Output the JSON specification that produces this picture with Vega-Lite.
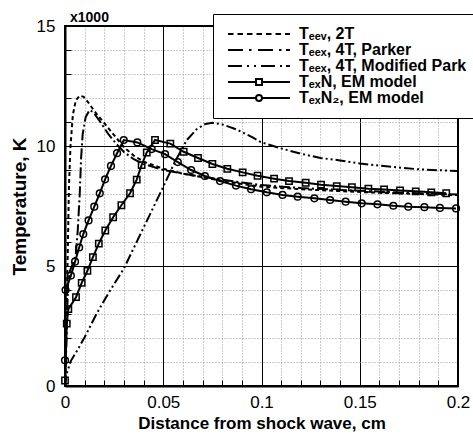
{
  "$schema": "https://vega.github.io/schema/vega-lite/v6.json",
  "autosize": "none",
  "width": 393,
  "height": 360,
  "padding": {"left": 65, "top": 26, "right": 15, "bottom": 49},
  "background": "white",
  "title": {"text": "x1000", "anchor": "start", "frame": "group", "fontSize": 14, "fontWeight": "bold", "font": "Liberation Sans", "color": "black", "offset": 4, "dx": 5, "dy": 15},
  "config": {
    "view": {"stroke": "black", "strokeWidth": 2},
    "axis": {
      "domainColor": "black", "domainWidth": 2,
      "labelFont": "Liberation Sans", "labelFontSize": 17, "labelFontWeight": "normal", "labelColor": "black",
      "titleFont": "Liberation Sans", "titleFontWeight": "bold", "titleColor": "black",
      "tickColor": "black", "tickWidth": 1, "labelOverlap": false, "labelFlush": false
    },
    "legend": {
      "labelFont": "Liberation Sans", "labelFontSize": 16, "labelFontWeight": "bold", "labelColor": "black",
      "symbolStrokeWidth": 2, "symbolStrokeColor": "black"
    }
  },
  "datasets": {
    "temps": [
      {"s": "Tₑₑᵥ, 2T", "x": 0, "y": 0},
      {"s": "Tₑₑᵥ, 2T", "x": 0.0008, "y": 3.0},
      {"s": "Tₑₑᵥ, 2T", "x": 0.0015, "y": 6.0},
      {"s": "Tₑₑᵥ, 2T", "x": 0.002, "y": 8.3},
      {"s": "Tₑₑᵥ, 2T", "x": 0.0028, "y": 10.0},
      {"s": "Tₑₑᵥ, 2T", "x": 0.004, "y": 11.3},
      {"s": "Tₑₑᵥ, 2T", "x": 0.0055, "y": 11.9},
      {"s": "Tₑₑᵥ, 2T", "x": 0.0075, "y": 12.1},
      {"s": "Tₑₑᵥ, 2T", "x": 0.0095, "y": 12.05},
      {"s": "Tₑₑᵥ, 2T", "x": 0.012, "y": 11.8},
      {"s": "Tₑₑᵥ, 2T", "x": 0.015, "y": 11.45},
      {"s": "Tₑₑᵥ, 2T", "x": 0.02, "y": 10.95},
      {"s": "Tₑₑᵥ, 2T", "x": 0.025, "y": 10.45},
      {"s": "Tₑₑᵥ, 2T", "x": 0.03, "y": 9.95},
      {"s": "Tₑₑᵥ, 2T", "x": 0.035, "y": 9.6},
      {"s": "Tₑₑᵥ, 2T", "x": 0.04, "y": 9.35},
      {"s": "Tₑₑᵥ, 2T", "x": 0.045, "y": 9.2},
      {"s": "Tₑₑᵥ, 2T", "x": 0.05, "y": 9.05},
      {"s": "Tₑₑᵥ, 2T", "x": 0.06, "y": 8.85},
      {"s": "Tₑₑᵥ, 2T", "x": 0.07, "y": 8.7},
      {"s": "Tₑₑᵥ, 2T", "x": 0.08, "y": 8.55},
      {"s": "Tₑₑᵥ, 2T", "x": 0.09, "y": 8.42},
      {"s": "Tₑₑᵥ, 2T", "x": 0.1, "y": 8.3},
      {"s": "Tₑₑᵥ, 2T", "x": 0.12, "y": 8.2},
      {"s": "Tₑₑᵥ, 2T", "x": 0.14, "y": 8.12},
      {"s": "Tₑₑᵥ, 2T", "x": 0.16, "y": 8.05},
      {"s": "Tₑₑᵥ, 2T", "x": 0.18, "y": 8.0},
      {"s": "Tₑₑᵥ, 2T", "x": 0.2, "y": 7.95},

      {"s": "Tₑₑₓ, 4T, Parker", "x": 0, "y": 0},
      {"s": "Tₑₑₓ, 4T, Parker", "x": 0.0008, "y": 2.0},
      {"s": "Tₑₑₓ, 4T, Parker", "x": 0.0015, "y": 4.2},
      {"s": "Tₑₑₓ, 4T, Parker", "x": 0.0025, "y": 4.8},
      {"s": "Tₑₑₓ, 4T, Parker", "x": 0.004, "y": 5.1},
      {"s": "Tₑₑₓ, 4T, Parker", "x": 0.0055, "y": 5.5},
      {"s": "Tₑₑₓ, 4T, Parker", "x": 0.0065, "y": 6.5},
      {"s": "Tₑₑₓ, 4T, Parker", "x": 0.0075, "y": 8.0},
      {"s": "Tₑₑₓ, 4T, Parker", "x": 0.0082, "y": 9.5},
      {"s": "Tₑₑₓ, 4T, Parker", "x": 0.009, "y": 10.5},
      {"s": "Tₑₑₓ, 4T, Parker", "x": 0.0105, "y": 11.2},
      {"s": "Tₑₑₓ, 4T, Parker", "x": 0.0125, "y": 11.5},
      {"s": "Tₑₑₓ, 4T, Parker", "x": 0.0145, "y": 11.4},
      {"s": "Tₑₑₓ, 4T, Parker", "x": 0.018, "y": 11.0},
      {"s": "Tₑₑₓ, 4T, Parker", "x": 0.022, "y": 10.5},
      {"s": "Tₑₑₓ, 4T, Parker", "x": 0.026, "y": 10.1},
      {"s": "Tₑₑₓ, 4T, Parker", "x": 0.03, "y": 9.75},
      {"s": "Tₑₑₓ, 4T, Parker", "x": 0.035, "y": 9.45},
      {"s": "Tₑₑₓ, 4T, Parker", "x": 0.04, "y": 9.25},
      {"s": "Tₑₑₓ, 4T, Parker", "x": 0.05, "y": 9.0},
      {"s": "Tₑₑₓ, 4T, Parker", "x": 0.06, "y": 8.85},
      {"s": "Tₑₑₓ, 4T, Parker", "x": 0.07, "y": 8.72},
      {"s": "Tₑₑₓ, 4T, Parker", "x": 0.08, "y": 8.6},
      {"s": "Tₑₑₓ, 4T, Parker", "x": 0.09, "y": 8.48},
      {"s": "Tₑₑₓ, 4T, Parker", "x": 0.1, "y": 8.37},
      {"s": "Tₑₑₓ, 4T, Parker", "x": 0.12, "y": 8.25},
      {"s": "Tₑₑₓ, 4T, Parker", "x": 0.14, "y": 8.17},
      {"s": "Tₑₑₓ, 4T, Parker", "x": 0.16, "y": 8.1},
      {"s": "Tₑₑₓ, 4T, Parker", "x": 0.18, "y": 8.03},
      {"s": "Tₑₑₓ, 4T, Parker", "x": 0.2, "y": 7.98},

      {"s": "Tₑₑₓ, 4T, Modified Park", "x": 0, "y": 0},
      {"s": "Tₑₑₓ, 4T, Modified Park", "x": 0.0008, "y": 0.5},
      {"s": "Tₑₑₓ, 4T, Modified Park", "x": 0.003, "y": 1.05},
      {"s": "Tₑₑₓ, 4T, Modified Park", "x": 0.006, "y": 1.45},
      {"s": "Tₑₑₓ, 4T, Modified Park", "x": 0.01, "y": 2.03},
      {"s": "Tₑₑₓ, 4T, Modified Park", "x": 0.016, "y": 3.0},
      {"s": "Tₑₑₓ, 4T, Modified Park", "x": 0.022, "y": 3.85},
      {"s": "Tₑₑₓ, 4T, Modified Park", "x": 0.03, "y": 4.9},
      {"s": "Tₑₑₓ, 4T, Modified Park", "x": 0.04, "y": 6.6},
      {"s": "Tₑₑₓ, 4T, Modified Park", "x": 0.05, "y": 8.3},
      {"s": "Tₑₑₓ, 4T, Modified Park", "x": 0.056, "y": 9.35},
      {"s": "Tₑₑₓ, 4T, Modified Park", "x": 0.062, "y": 10.25},
      {"s": "Tₑₑₓ, 4T, Modified Park", "x": 0.067, "y": 10.7},
      {"s": "Tₑₑₓ, 4T, Modified Park", "x": 0.0715, "y": 10.92},
      {"s": "Tₑₑₓ, 4T, Modified Park", "x": 0.075, "y": 10.97},
      {"s": "Tₑₑₓ, 4T, Modified Park", "x": 0.08, "y": 10.9},
      {"s": "Tₑₑₓ, 4T, Modified Park", "x": 0.087, "y": 10.7},
      {"s": "Tₑₑₓ, 4T, Modified Park", "x": 0.095, "y": 10.38},
      {"s": "Tₑₑₓ, 4T, Modified Park", "x": 0.1, "y": 10.15},
      {"s": "Tₑₑₓ, 4T, Modified Park", "x": 0.11, "y": 9.9},
      {"s": "Tₑₑₓ, 4T, Modified Park", "x": 0.12, "y": 9.68},
      {"s": "Tₑₑₓ, 4T, Modified Park", "x": 0.13, "y": 9.5},
      {"s": "Tₑₑₓ, 4T, Modified Park", "x": 0.14, "y": 9.4},
      {"s": "Tₑₑₓ, 4T, Modified Park", "x": 0.15, "y": 9.27},
      {"s": "Tₑₑₓ, 4T, Modified Park", "x": 0.16, "y": 9.18},
      {"s": "Tₑₑₓ, 4T, Modified Park", "x": 0.17, "y": 9.1},
      {"s": "Tₑₑₓ, 4T, Modified Park", "x": 0.18, "y": 9.03},
      {"s": "Tₑₑₓ, 4T, Modified Park", "x": 0.19, "y": 8.99},
      {"s": "Tₑₑₓ, 4T, Modified Park", "x": 0.2, "y": 8.96},

      {"s": "TₑₓN, EM model", "x": 0, "y": 0.23},
      {"s": "TₑₓN, EM model", "x": 0.0009, "y": 2.6},
      {"s": "TₑₓN, EM model", "x": 0.0017, "y": 3.2},
      {"s": "TₑₓN, EM model", "x": 0.0056, "y": 3.7},
      {"s": "TₑₓN, EM model", "x": 0.0085, "y": 4.3},
      {"s": "TₑₓN, EM model", "x": 0.0114, "y": 4.8},
      {"s": "TₑₓN, EM model", "x": 0.0142, "y": 5.37},
      {"s": "TₑₓN, EM model", "x": 0.0172, "y": 5.93},
      {"s": "TₑₓN, EM model", "x": 0.0205, "y": 6.48},
      {"s": "TₑₓN, EM model", "x": 0.0245, "y": 7.03},
      {"s": "TₑₓN, EM model", "x": 0.0287, "y": 7.53},
      {"s": "TₑₓN, EM model", "x": 0.0331, "y": 8.03},
      {"s": "TₑₓN, EM model", "x": 0.0365, "y": 8.6},
      {"s": "TₑₓN, EM model", "x": 0.039, "y": 9.2},
      {"s": "TₑₓN, EM model", "x": 0.0416, "y": 9.73},
      {"s": "TₑₓN, EM model", "x": 0.0458, "y": 10.25},
      {"s": "TₑₓN, EM model", "x": 0.0536, "y": 10.1},
      {"s": "TₑₓN, EM model", "x": 0.0604, "y": 9.76},
      {"s": "TₑₓN, EM model", "x": 0.0677, "y": 9.5},
      {"s": "TₑₓN, EM model", "x": 0.075, "y": 9.25},
      {"s": "TₑₓN, EM model", "x": 0.0826, "y": 9.05},
      {"s": "TₑₓN, EM model", "x": 0.0904, "y": 8.9},
      {"s": "TₑₓN, EM model", "x": 0.098, "y": 8.76},
      {"s": "TₑₓN, EM model", "x": 0.1064, "y": 8.64},
      {"s": "TₑₓN, EM model", "x": 0.114, "y": 8.54},
      {"s": "TₑₓN, EM model", "x": 0.1225, "y": 8.47},
      {"s": "TₑₓN, EM model", "x": 0.1303, "y": 8.39},
      {"s": "TₑₓN, EM model", "x": 0.1383, "y": 8.33},
      {"s": "TₑₓN, EM model", "x": 0.146, "y": 8.28},
      {"s": "TₑₓN, EM model", "x": 0.1544, "y": 8.22},
      {"s": "TₑₓN, EM model", "x": 0.1624, "y": 8.19},
      {"s": "TₑₓN, EM model", "x": 0.1705, "y": 8.15},
      {"s": "TₑₓN, EM model", "x": 0.1785, "y": 8.11},
      {"s": "TₑₓN, EM model", "x": 0.1864, "y": 8.07},
      {"s": "TₑₓN, EM model", "x": 0.194, "y": 8.03},

      {"s": "TₑₓN₂, EM model", "x": 0, "y": 1.07},
      {"s": "TₑₓN₂, EM model", "x": 0.0003, "y": 4.0},
      {"s": "TₑₓN₂, EM model", "x": 0.003, "y": 4.6},
      {"s": "TₑₓN₂, EM model", "x": 0.0051, "y": 5.18},
      {"s": "TₑₓN₂, EM model", "x": 0.0072, "y": 5.77},
      {"s": "TₑₓN₂, EM model", "x": 0.0093, "y": 6.33},
      {"s": "TₑₓN₂, EM model", "x": 0.012, "y": 6.9},
      {"s": "TₑₓN₂, EM model", "x": 0.0149, "y": 7.47},
      {"s": "TₑₓN₂, EM model", "x": 0.0177, "y": 8.03},
      {"s": "TₑₓN₂, EM model", "x": 0.0204, "y": 8.61},
      {"s": "TₑₓN₂, EM model", "x": 0.0234, "y": 9.17},
      {"s": "TₑₓN₂, EM model", "x": 0.0265, "y": 9.7},
      {"s": "TₑₓN₂, EM model", "x": 0.0299, "y": 10.25},
      {"s": "TₑₓN₂, EM model", "x": 0.0368, "y": 10.15},
      {"s": "TₑₓN₂, EM model", "x": 0.0441, "y": 9.87},
      {"s": "TₑₓN₂, EM model", "x": 0.0509, "y": 9.66},
      {"s": "TₑₓN₂, EM model", "x": 0.0574, "y": 9.33},
      {"s": "TₑₓN₂, EM model", "x": 0.0642, "y": 9.0},
      {"s": "TₑₓN₂, EM model", "x": 0.0712, "y": 8.75},
      {"s": "TₑₓN₂, EM model", "x": 0.0789, "y": 8.54},
      {"s": "TₑₓN₂, EM model", "x": 0.087, "y": 8.35},
      {"s": "TₑₓN₂, EM model", "x": 0.0947, "y": 8.2},
      {"s": "TₑₓN₂, EM model", "x": 0.1027, "y": 8.07},
      {"s": "TₑₓN₂, EM model", "x": 0.1107, "y": 7.96},
      {"s": "TₑₓN₂, EM model", "x": 0.1184, "y": 7.89},
      {"s": "TₑₓN₂, EM model", "x": 0.1269, "y": 7.82},
      {"s": "TₑₓN₂, EM model", "x": 0.1349, "y": 7.75},
      {"s": "TₑₓN₂, EM model", "x": 0.1428, "y": 7.68},
      {"s": "TₑₓN₂, EM model", "x": 0.151, "y": 7.61},
      {"s": "TₑₓN₂, EM model", "x": 0.159, "y": 7.57},
      {"s": "TₑₓN₂, EM model", "x": 0.1671, "y": 7.51},
      {"s": "TₑₓN₂, EM model", "x": 0.1747, "y": 7.47},
      {"s": "TₑₓN₂, EM model", "x": 0.1829, "y": 7.45},
      {"s": "TₑₓN₂, EM model", "x": 0.1908, "y": 7.42},
      {"s": "TₑₓN₂, EM model", "x": 0.199, "y": 7.4}
    ]
  },
  "data": {"name": "temps"},
  "encoding": {
    "x": {
      "field": "x", "type": "quantitative",
      "scale": {"domain": [0, 0.2], "nice": false, "zero": false},
      "axis": {
        "title": "Distance from shock wave, cm",
        "titleFontSize": 17,
        "values": [0, 0.01, 0.02, 0.03, 0.04, 0.05, 0.06, 0.07, 0.08, 0.09, 0.1, 0.11, 0.12, 0.13, 0.14, 0.15, 0.16, 0.17, 0.18, 0.19, 0.2],
        "labelExpr": "round(datum.value * 100) % 5 === 0 ? format(datum.value, '~g') : ''",
        "grid": true,
        "gridColor": {"condition": {"test": "round(datum.value * 100) % 5 === 0", "value": "black"}, "value": "#9a9a9a"},
        "gridDash": {"condition": {"test": "round(datum.value * 100) % 5 === 0", "value": []}, "value": [1, 2]},
        "gridWidth": 1,
        "tickSize": -6,
        "labelPadding": 14,
        "titlePadding": 5
      }
    },
    "y": {
      "field": "y", "type": "quantitative",
      "scale": {"domain": [0, 15], "nice": false, "zero": false},
      "axis": {
        "title": "Temperature, K",
        "titleFontSize": 19,
        "values": [0, 1, 2, 3, 4, 5, 6, 7, 8, 9, 10, 11, 12, 13, 14, 15],
        "labelExpr": "datum.value % 5 === 0 ? format(datum.value, '~g') : ''",
        "grid": true,
        "gridColor": {"condition": {"test": "datum.value % 5 === 0", "value": "black"}, "value": "#9a9a9a"},
        "gridDash": {"condition": {"test": "datum.value % 5 === 0", "value": []}, "value": [1, 2]},
        "gridWidth": 1,
        "tickSize": -6,
        "labelPadding": 16,
        "titlePadding": 7
      }
    }
  },
  "layer": [
    {
      "transform": [{"filter": "datum.s === 'Tₑₑᵥ, 2T'"}],
      "mark": {"type": "line", "color": "black", "strokeWidth": 2, "strokeDash": [4, 3], "clip": true}
    },
    {
      "transform": [{"filter": "datum.s === 'Tₑₑₓ, 4T, Parker'"}],
      "mark": {"type": "line", "color": "black", "strokeWidth": 2, "strokeDash": [11, 3, 2, 3], "clip": true}
    },
    {
      "transform": [{"filter": "datum.s === 'Tₑₑₓ, 4T, Modified Park'"}],
      "mark": {"type": "line", "color": "black", "strokeWidth": 2, "strokeDash": [10, 3, 2, 3, 2, 3], "clip": true}
    },
    {
      "transform": [{"filter": "datum.s === 'TₑₓN, EM model' || datum.s === 'TₑₓN₂, EM model'"}],
      "mark": {"type": "line", "color": "black", "strokeWidth": 2, "clip": true},
      "encoding": {"detail": {"field": "s"}}
    },
    {
      "transform": [{"filter": "datum.s === 'TₑₓN, EM model'"}],
      "mark": {"type": "point", "shape": "square", "filled": false, "color": "black", "size": 40, "strokeWidth": 1.5, "opacity": 1}
    },
    {
      "transform": [{"filter": "datum.s === 'TₑₓN₂, EM model'"}],
      "mark": {"type": "point", "shape": "circle", "filled": false, "color": "black", "size": 45, "strokeWidth": 1.5, "opacity": 1}
    },
    {
      "mark": {"type": "point", "filled": false, "color": "black", "size": 0, "strokeWidth": 2},
      "encoding": {
        "shape": {
          "field": "s", "type": "nominal",
          "scale": {
            "domain": ["Tₑₑᵥ, 2T", "Tₑₑₓ, 4T, Parker", "Tₑₑₓ, 4T, Modified Park", "TₑₓN, EM model", "TₑₓN₂, EM model"],
            "range": [
              "M-1,0h1.1M0.9,0h1.1M2.8,0h1.1M4.7,0h1.1M6.6,0h1.1M8.5,0h1.1M10.4,0h1",
              "M-1,0h3M3.2,0h0.5M5,0h3M9.2,0h0.5M10.6,0h0.8",
              "M-1,0h2.8M2.8,0h0.4M4.2,0h0.4M5.6,0h2.8M9.4,0h0.4M10.6,0h0.8",
              "M-1,0H4.6M5.8,0H11.4M4.6,-0.6H5.8V0.6H4.6Z",
              "M-1,0H4.6M5.8,0H11.4M4.6,0A0.6,0.6 0 1,0 5.8,0A0.6,0.6 0 1,0 4.6,0Z"
            ]
          },
          "legend": {
            "title": null, "orient": "none", "legendX": 148, "legendY": -12,
            "fillColor": "white", "strokeColor": "black", "padding": 12,
            "symbolSize": 100, "symbolStrokeWidth": 2, "symbolStrokeColor": "black", "symbolFillColor": "transparent", "symbolOpacity": 1,
            "labelFont": "Liberation Sans", "labelFontSize": 16, "labelFontWeight": "bold", "labelColor": "black",
            "labelOffset": 58, "labelLimit": 300, "rowPadding": 0
          }
        }
      }
    }
  ]
}
